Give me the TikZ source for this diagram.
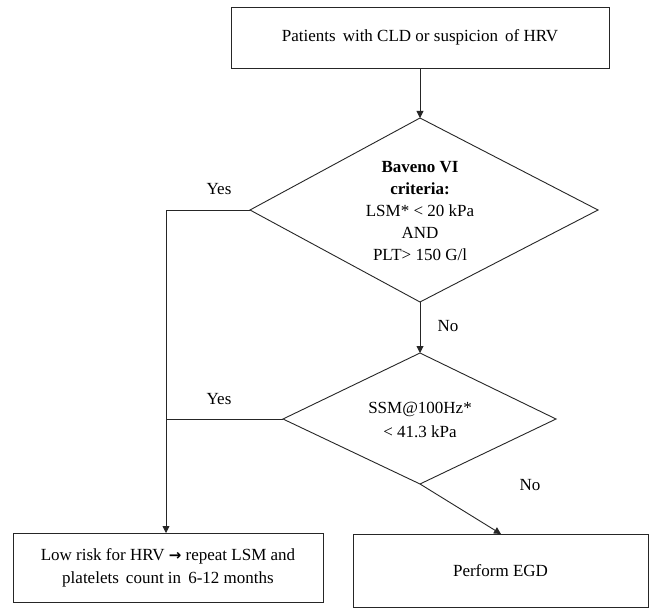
\documentclass[tikz,border=0pt]{standalone}
\usepackage{fontspec}
\setmainfont{Liberation Serif}
\newfontfamily\arrowfont{DejaVu Sans}
\usetikzlibrary{arrows.meta}
\tikzset{
  every picture/.style={x=1pt,y=-1pt},
  txt/.style={font=\fontsize{17}{22}\selectfont, align=center, inner sep=0pt},
  box/.style={draw=black!85, line width=0.9pt, txt, inner sep=0pt},
  link/.style={draw=black!85, line width=0.9pt},
  arr/.style={link, -{Triangle[length=7pt,width=7pt]}},
  diam/.style={draw=black!85, line width=0.9pt, line join=miter}
}
\begin{document}
\begin{tikzpicture}
\useasboundingbox[fill=white] (0,0) rectangle (652,612);
% top box
\node[box, minimum width=378pt, minimum height=61pt] (top) at (420,37.5) {Patients\, with CLD or suspicion\, of HRV};
% diamond 1
\coordinate (d1t) at (420,118);
\coordinate (d1l) at (250,210);
\coordinate (d1r) at (598,210);
\coordinate (d1b) at (420,302);
\draw[diam] (d1t) -- (d1r) -- (d1b) -- (d1l) -- cycle;
\node[txt] (d1) at (420,211) {\textbf{Baveno VI}\\ \textbf{criteria:}\\ LSM* < 20 kPa\\ AND\\ PLT> 150 G/l};
% diamond 2
\coordinate (d2t) at (420,353);
\coordinate (d2l) at (283,419);
\coordinate (d2r) at (556,419);
\coordinate (d2b) at (420,484);
\draw[diam] (d2t) -- (d2r) -- (d2b) -- (d2l) -- cycle;
\node[txt, font=\fontsize{17}{24}\selectfont] (d2) at (420,420) {SSM@100Hz*\\ < 41.3 kPa};
% bottom boxes
\node[box, minimum width=310pt, minimum height=69pt, font=\fontsize{17}{23}\selectfont] (low) at (168,567.5) {Low risk for HRV {\arrowfont\bfseries\fontsize{15}{15}\selectfont →} repeat LSM and\\ platelets\, count in\, 6-12 months};
\node[box, minimum width=295pt, minimum height=73pt] (egd) at (500.5,570.5) {Perform EGD};
% helper coordinates
\coordinate (c1) at (166,210);
\coordinate (c2) at (166,419);
\coordinate (lowin) at (166,533);
\coordinate (egdin) at (501,534);
% connectors
\draw[arr] (top.south) -- (d1t);
\draw[arr] (d1b) -- (d2t);
\draw[link] (d1l) -- (c1);
\draw[arr] (c1) -- (lowin);
\draw[link] (d2l) -- (c2);
\draw[arr] (d2b) -- (egdin);
% labels
\node[txt] (yes1) at (219,189) {Yes};
\node[txt] (no1) at (448,326) {No};
\node[txt] (yes2) at (219,399) {Yes};
\node[txt] (no2) at (530,485) {No};
\end{tikzpicture}
\end{document}
